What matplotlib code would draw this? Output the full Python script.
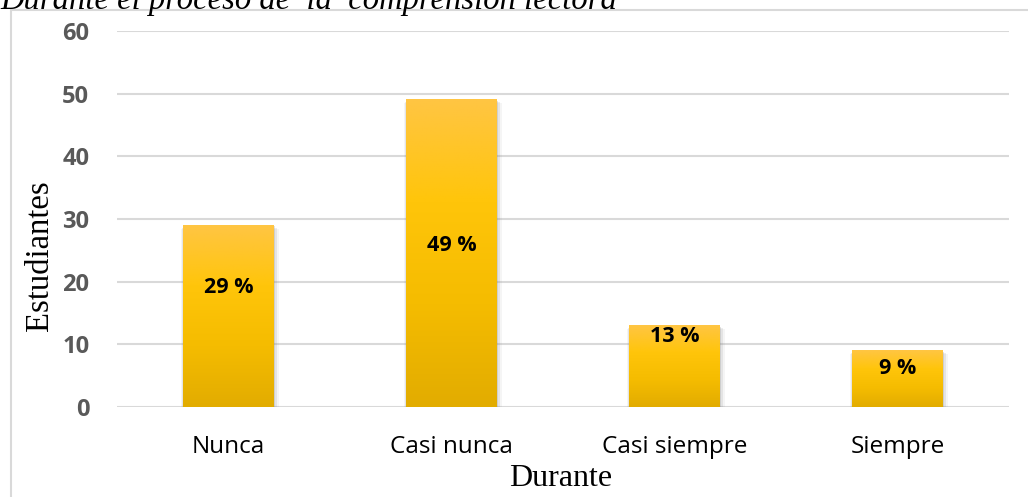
import numpy as np
import matplotlib.pyplot as plt
from matplotlib.patches import Rectangle
from matplotlib.colors import LinearSegmentedColormap

# data
categorias = ['Nunca', 'Casi nunca', 'Casi siempre', 'Siempre']
estudiantes = [29, 49, 13, 9]
etiquetas = ['29 %', '49 %', '13 %', '9 %']
# height at which each percentage label sits
altura_etiqueta = [19.0, 25.7, 11.2, 6.2]
yticks = [0, 10, 20, 30, 40, 50, 60]

fig = plt.figure(figsize=(10.28, 4.97), dpi=100)
ax = fig.add_axes([117 / 1028, 1 - 407 / 497, 892 / 1028, 376 / 497])

# gradient used for the bars
cmap = LinearSegmentedColormap.from_list(
    'oro', ['#E2AC00', '#F5BC00', '#FFC50A', '#FFC543'])
grad = np.linspace(0, 1, 256).reshape(-1, 1)

ancho = 0.405
x = np.arange(len(categorias))
for xi, v in zip(x, estudiantes):
    # soft shadow around the bar, stronger to the right and below
    for k, a in enumerate([0.22, 0.14, 0.08]):
        dx = 0.006 * (k + 1)
        dy = 0.18 * (k + 1)
        ax.add_patch(Rectangle((xi - ancho / 2 - dx / 2, -dy), ancho + dx * 1.8,
                               v, facecolor='#808080', alpha=a, lw=0,
                               zorder=2))
    ax.imshow(grad, cmap=cmap, origin='lower', aspect='auto',
              extent=[xi - ancho / 2, xi + ancho / 2, 0, v], zorder=3)

for xi, h, t in zip(x, altura_etiqueta, etiquetas):
    ax.text(xi, h, t, ha='center', va='center', fontsize=15.5,
            fontweight='bold', family='Open Sans', color='black', zorder=5)

ax.set_xlim(-0.5, 3.5)
ax.set_ylim(0, 60)
ax.set_yticks(yticks)
ax.set_yticklabels([str(t) for t in yticks], fontsize=17, fontweight='bold',
                   color='#595959', family='Open Sans')
ax.set_xticks(x)
ax.set_xticklabels(categorias, fontsize=17.5, family='Open Sans', color='black')
ax.tick_params(length=0)
ax.tick_params(axis='y', pad=20)
ax.tick_params(axis='x', pad=20)
ax.grid(axis='y', color='#D9D9D9', lw=1.5, zorder=0)
for s in ax.spines.values():
    s.set_visible(False)

fig.text(40 / 1028, 1 - 256 / 497, 'Estudiantes', rotation=90, ha='center',
         va='center', fontsize=23.5, family='Liberation Serif')
fig.text(561 / 1028, 1 - 478 / 497, 'Durante', ha='center', va='center',
         fontsize=23, family='Liberation Serif')
fig.text(0.0, 1 - 9 / 497, 'Durante el proceso de  la  comprensión lectora',
         ha='left', va='baseline', fontsize=23.5, style='italic',
         family='Liberation Serif')

# chart frame
fig.patches.append(Rectangle((11 / 1028, -0.05), 1.2, 1.05 - 10 / 497,
                             transform=fig.transFigure, fill=False,
                             edgecolor='#D9D9D9', lw=1.5))

fig.savefig('out.png', dpi=100)
